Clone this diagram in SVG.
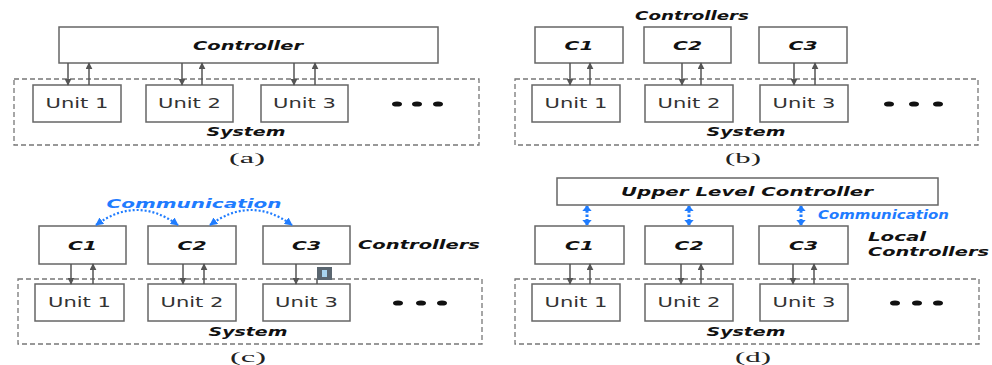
<svg xmlns="http://www.w3.org/2000/svg" width="992" height="365" viewBox="0 0 992 365">
  <style>
    .box { fill: #fff; stroke: #666; stroke-width: 1.5; }
    .sys { fill: none; stroke: #777; stroke-width: 1.3; stroke-dasharray: 5 3; }
    .lbl { font-family: "DejaVu Sans", Verdana, sans-serif; font-weight: bold; font-style: italic; font-size: 12.5px; fill: #111; text-anchor: middle; }
    .unit { font-family: "DejaVu Sans", Verdana, sans-serif; font-size: 13.5px; fill: #333; text-anchor: middle; }
    .cap { font-family: "Liberation Serif", "Times New Roman", serif; font-size: 15px; fill: #222; text-anchor: middle; }
    .comm { font-family: "DejaVu Sans", Verdana, sans-serif; font-weight: bold; font-style: italic; font-size: 12.5px; fill: #1f7cff; text-anchor: middle; }
    .side { font-family: "DejaVu Sans", Verdana, sans-serif; font-weight: bold; font-style: italic; font-size: 11.5px; fill: #111; }
    .ar { stroke: #555; stroke-width: 1.5; fill: none; marker-end: url(#head); }
    .blue { stroke: #1f7cff; stroke-width: 2.2; stroke-dasharray: 2 2; fill: none; marker-start: url(#bhead); marker-end: url(#bhead); }
    .vblue { stroke: #1f7cff; stroke-width: 3; stroke-dasharray: 2.5 1.8; fill: none; marker-start: url(#vhead); marker-end: url(#vhead); }
    .dot { fill: #111; }
  </style>
  <defs>
    <marker id="head" viewBox="0 0 10 10" refX="9" refY="5" markerWidth="7" markerHeight="7" markerUnits="userSpaceOnUse" orient="auto">
      <path d="M0,0 L10,5 L0,10 z" fill="#555"/>
    </marker>
    <marker id="bhead" viewBox="0 0 10 10" refX="9" refY="5" markerWidth="8" markerHeight="8" markerUnits="userSpaceOnUse" orient="auto-start-reverse">
      <path d="M0,0 L10,5 L0,10 z" fill="#1f7cff"/>
    </marker>
    <marker id="vhead" viewBox="0 0 10 10" refX="9" refY="5" markerWidth="6" markerHeight="10" markerUnits="userSpaceOnUse" orient="auto-start-reverse" preserveAspectRatio="none">
      <path d="M0,0 L10,5 L0,10 z" fill="#1f7cff"/>
    </marker>
  </defs>

  <!-- (a) centralized controller -->
  <g id="a-system">
    <rect class="sys" x="14" y="79" width="465" height="66"/>
    <text class="lbl" x="246" y="136" textLength="79" lengthAdjust="spacingAndGlyphs">System</text>
  </g>
  <g id="a-controller">
    <rect class="box" x="59" y="27" width="379" height="36"/>
    <text class="lbl" x="248" y="50" textLength="110" lengthAdjust="spacingAndGlyphs">Controller</text>
  </g>
  <g id="a-unit1"><rect class="box" x="33" y="85" width="88" height="37"/><text class="unit" x="77" y="108" textLength="63" lengthAdjust="spacingAndGlyphs">Unit 1</text></g>
  <g id="a-unit2"><rect class="box" x="146" y="85" width="87" height="37"/><text class="unit" x="189.5" y="108" textLength="63" lengthAdjust="spacingAndGlyphs">Unit 2</text></g>
  <g id="a-unit3"><rect class="box" x="261" y="85" width="87" height="37"/><text class="unit" x="304.5" y="108" textLength="63" lengthAdjust="spacingAndGlyphs">Unit 3</text></g>
  <g id="a-more"><ellipse class="dot" cx="397" cy="104" rx="5" ry="2.6"/><ellipse class="dot" cx="417" cy="104" rx="5" ry="2.6"/><ellipse class="dot" cx="438" cy="104" rx="5" ry="2.6"/></g>
  <text class="cap" x="247" y="163" textLength="36" lengthAdjust="spacingAndGlyphs">(a)</text>

  <!-- (b) decentralized controllers -->
  <g id="b-system">
    <rect class="sys" x="515" y="79" width="463" height="66"/>
    <text class="lbl" x="746" y="136" textLength="79" lengthAdjust="spacingAndGlyphs">System</text>
  </g>
  <text class="lbl" x="692" y="20" textLength="114" lengthAdjust="spacingAndGlyphs">Controllers</text>
  <g id="b-c1"><rect class="box" x="535" y="27" width="88" height="36"/><text class="lbl" x="579" y="50" textLength="29" lengthAdjust="spacingAndGlyphs">C1</text></g>
  <g id="b-c2"><rect class="box" x="644" y="27" width="87" height="36"/><text class="lbl" x="687.5" y="50" textLength="29" lengthAdjust="spacingAndGlyphs">C2</text></g>
  <g id="b-c3"><rect class="box" x="759" y="27" width="88" height="36"/><text class="lbl" x="803" y="50" textLength="29" lengthAdjust="spacingAndGlyphs">C3</text></g>
  <g id="b-unit1"><rect class="box" x="532" y="85" width="88" height="37"/><text class="unit" x="576" y="108" textLength="63" lengthAdjust="spacingAndGlyphs">Unit 1</text></g>
  <g id="b-unit2"><rect class="box" x="645" y="85" width="88" height="37"/><text class="unit" x="689" y="108" textLength="63" lengthAdjust="spacingAndGlyphs">Unit 2</text></g>
  <g id="b-unit3"><rect class="box" x="760" y="85" width="88" height="37"/><text class="unit" x="804" y="108" textLength="63" lengthAdjust="spacingAndGlyphs">Unit 3</text></g>
  <g id="b-more"><ellipse class="dot" cx="889" cy="104" rx="5" ry="2.6"/><ellipse class="dot" cx="914" cy="104" rx="5" ry="2.6"/><ellipse class="dot" cx="938" cy="104" rx="5" ry="2.6"/></g>
  <text class="cap" x="743" y="163" textLength="36" lengthAdjust="spacingAndGlyphs">(b)</text>

  <!-- (c) distributed controllers -->
  <g id="c-system">
    <rect class="sys" x="18" y="279" width="464" height="65"/>
    <text class="lbl" x="248" y="336" textLength="79" lengthAdjust="spacingAndGlyphs">System</text>
  </g>
  <text class="comm" x="194" y="208" textLength="175" lengthAdjust="spacingAndGlyphs">Communication</text>
  <text class="lbl" x="419" y="249" textLength="122" lengthAdjust="spacingAndGlyphs">Controllers</text>
  <g id="c-c1"><rect class="box" x="39" y="226" width="87" height="38"/><text class="lbl" x="82.5" y="250" textLength="29" lengthAdjust="spacingAndGlyphs">C1</text></g>
  <g id="c-c2"><rect class="box" x="148" y="226" width="88" height="38"/><text class="lbl" x="192" y="250" textLength="29" lengthAdjust="spacingAndGlyphs">C2</text></g>
  <g id="c-c3"><rect class="box" x="263" y="226" width="87" height="38"/><text class="lbl" x="306.5" y="250" textLength="29" lengthAdjust="spacingAndGlyphs">C3</text></g>
  <g id="c-unit1"><rect class="box" x="35" y="284" width="89" height="37"/><text class="unit" x="79.5" y="307" textLength="63" lengthAdjust="spacingAndGlyphs">Unit 1</text></g>
  <g id="c-unit2"><rect class="box" x="148" y="284" width="88" height="37"/><text class="unit" x="192" y="307" textLength="63" lengthAdjust="spacingAndGlyphs">Unit 2</text></g>
  <g id="c-unit3"><rect class="box" x="263" y="284" width="87" height="37"/><text class="unit" x="306.5" y="307" textLength="63" lengthAdjust="spacingAndGlyphs">Unit 3</text></g>
  <g id="c-more"><ellipse class="dot" cx="398" cy="303" rx="5" ry="2.6"/><ellipse class="dot" cx="421" cy="303" rx="5" ry="2.6"/><ellipse class="dot" cx="442" cy="303" rx="5" ry="2.6"/></g>
  <text class="cap" x="248" y="362" textLength="36" lengthAdjust="spacingAndGlyphs">(c)</text>

  <!-- (d) hierarchical controllers -->
  <g id="d-system">
    <rect class="sys" x="515" y="279" width="464" height="65"/>
    <text class="lbl" x="746" y="336" textLength="79" lengthAdjust="spacingAndGlyphs">System</text>
  </g>
  <g id="d-upper">
    <rect class="box" x="557" y="178" width="381" height="27"/>
    <text class="lbl" x="747" y="196" textLength="252" lengthAdjust="spacingAndGlyphs">Upper Level Controller</text>
  </g>
  <text class="comm" x="883.5" y="219" font-size="10" textLength="131" lengthAdjust="spacingAndGlyphs">Communication</text>
  <text class="side" x="868" y="241" textLength="58" lengthAdjust="spacingAndGlyphs">Local</text>
  <text class="side" x="868" y="256" textLength="121" lengthAdjust="spacingAndGlyphs">Controllers</text>
  <g id="d-c1"><rect class="box" x="535" y="226" width="89" height="38"/><text class="lbl" x="579.5" y="250" textLength="29" lengthAdjust="spacingAndGlyphs">C1</text></g>
  <g id="d-c2"><rect class="box" x="645" y="226" width="88" height="38"/><text class="lbl" x="689" y="250" textLength="29" lengthAdjust="spacingAndGlyphs">C2</text></g>
  <g id="d-c3"><rect class="box" x="759" y="226" width="89" height="38"/><text class="lbl" x="803.5" y="250" textLength="29" lengthAdjust="spacingAndGlyphs">C3</text></g>
  <g id="d-unit1"><rect class="box" x="532" y="284" width="88" height="37"/><text class="unit" x="576" y="307" textLength="63" lengthAdjust="spacingAndGlyphs">Unit 1</text></g>
  <g id="d-unit2"><rect class="box" x="645" y="284" width="88" height="37"/><text class="unit" x="689" y="307" textLength="63" lengthAdjust="spacingAndGlyphs">Unit 2</text></g>
  <g id="d-unit3"><rect class="box" x="760" y="284" width="88" height="37"/><text class="unit" x="804" y="307" textLength="63" lengthAdjust="spacingAndGlyphs">Unit 3</text></g>
  <g id="d-more"><ellipse class="dot" cx="895" cy="303" rx="5" ry="2.6"/><ellipse class="dot" cx="917" cy="303" rx="5" ry="2.6"/><ellipse class="dot" cx="938" cy="303" rx="5" ry="2.6"/></g>
  <text class="cap" x="753" y="362" textLength="36" lengthAdjust="spacingAndGlyphs">(d)</text>

  <!-- connectors -->
  <g id="connectors">
    <!-- (a) -->
    <line class="ar" x1="68" y1="63" x2="68" y2="85"/>
    <line class="ar" x1="89" y1="85" x2="89" y2="63"/>
    <line class="ar" x1="182" y1="63" x2="182" y2="85"/>
    <line class="ar" x1="202" y1="85" x2="202" y2="63"/>
    <line class="ar" x1="294" y1="63" x2="294" y2="85"/>
    <line class="ar" x1="315" y1="85" x2="315" y2="63"/>
    <!-- (b) -->
    <line class="ar" x1="570" y1="63" x2="570" y2="85"/>
    <line class="ar" x1="590" y1="85" x2="590" y2="63"/>
    <line class="ar" x1="682" y1="63" x2="682" y2="85"/>
    <line class="ar" x1="701" y1="85" x2="701" y2="63"/>
    <line class="ar" x1="794" y1="63" x2="794" y2="85"/>
    <line class="ar" x1="815" y1="85" x2="815" y2="63"/>
    <!-- (c) -->
    <line class="ar" x1="71" y1="264" x2="71" y2="284"/>
    <line class="ar" x1="93" y1="284" x2="93" y2="264"/>
    <line class="ar" x1="183" y1="264" x2="183" y2="284"/>
    <line class="ar" x1="204" y1="284" x2="204" y2="264"/>
    <line class="ar" x1="296" y1="264" x2="296" y2="284"/>
    <line stroke="#555" stroke-width="1.5" x1="317" y1="284" x2="317" y2="279"/>
    <path class="blue" d="M96,225 Q137,195 178,225"/>
    <path class="blue" d="M210,225 Q251,195 292,225"/>
    <!-- (d) -->
    <line class="ar" x1="570" y1="264" x2="570" y2="284"/>
    <line class="ar" x1="590" y1="284" x2="590" y2="264"/>
    <line class="ar" x1="681" y1="264" x2="681" y2="284"/>
    <line class="ar" x1="701" y1="284" x2="701" y2="264"/>
    <line class="ar" x1="793" y1="264" x2="793" y2="284"/>
    <line class="ar" x1="814" y1="284" x2="814" y2="264"/>
    <line class="vblue" x1="587" y1="206" x2="587" y2="225"/>
    <line class="vblue" x1="689" y1="206" x2="689" y2="225"/>
    <line class="vblue" x1="801" y1="206" x2="801" y2="225"/>
  </g>

  <!-- small marker on the C3 feedback line -->
  <g id="c-flag">
    <rect x="317" y="267" width="15" height="13" fill="#5a6670"/>
    <rect x="322" y="270" width="5" height="7" fill="#a8d4ef"/>
  </g>
</svg>
